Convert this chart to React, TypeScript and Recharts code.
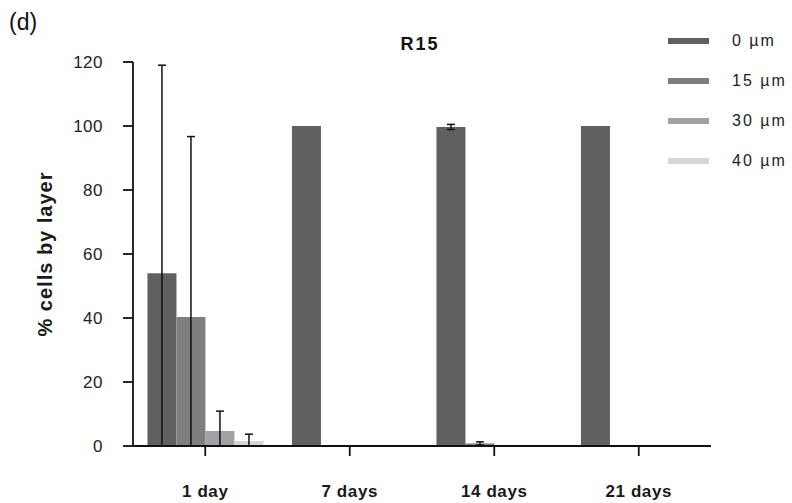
import { BarChart, Bar, XAxis, YAxis, ErrorBar, Legend } from 'recharts';

const categories = ['1 day', '7 days', '14 days', '21 days'];
const seriesNames = ['0 µm', '15 µm', '30 µm', '40 µm'];
const seriesColors = ['#606060', '#7e7e7e', '#a2a2a6', '#d6d6d6'];

const um0 = [54, 100, 99.7, 100];
const um15 = [40.3, 0, 0.8, 0];
const um30 = [4.7, 0, 0, 0];
const um40 = [1.6, 0, 0, 0];

// error (± sd), null = not drawn
const err0 = [65, null, 0.8, null];
const err15 = [56.4, null, 0.5, null];
const err30 = [6.2, null, null, null];
const err40 = [2.1, null, null, null];

const yTicks = [0, 20, 40, 60, 80, 100, 120];

const values = [um0, um15, um30, um40];
const errors = [err0, err15, err30, err40];

// lower whisker stops at the axis
const data = categories.map((cat, i) => {
  const row: Record<string, any> = { cat };
  values.forEach((vals, s) => {
    row[`s${s}`] = vals[i];
    const e = errors[s][i];
    row[`e${s}`] = e == null ? null : [Math.min(vals[i], e), e];
  });
  return row;
});

const font = '"Liberation Sans", Arial, sans-serif';

function LegendBox({ payload }: any) {
  return (
    <div style={{ fontFamily: font }}>
      {(payload || []).map((p: any) => (
        <div key={p.value} style={{ display: 'flex', alignItems: 'center', height: 40 }}>
          <div style={{ width: 41, height: 6, background: p.color, marginRight: 23 }} />
          <span style={{ fontSize: 16, color: '#222', letterSpacing: 2 }}>{p.value}</span>
        </div>
      ))}
    </div>
  );
}

function YLabel({ viewBox }: any) {
  const x = viewBox.x + 45;
  const y = viewBox.y + viewBox.height / 2;
  return (
    <text
      x={x}
      y={y}
      transform={`rotate(-90, ${x}, ${y})`}
      textAnchor="middle"
      dominantBaseline="central"
      fontFamily={font}
      fontWeight="bold"
      fontSize={20}
      letterSpacing={1}
      fill="#1a1a1a"
    >
      % cells by layer
    </text>
  );
}

export default function App() {
  return (
    <div style={{ position: 'absolute', left: 0, top: 0, width: 792, height: 503, background: '#fff' }}>
      <div style={{ position: 'absolute', left: 9, top: 9, fontFamily: font, fontSize: 23, color: '#111' }}>(d)</div>
      <div
        style={{
          position: 'absolute',
          left: 0,
          width: 840,
          top: 34,
          textAlign: 'center',
          fontFamily: font,
          fontSize: 18,
          fontWeight: 'bold',
          letterSpacing: 2,
          color: '#111',
        }}
      >
        R15
      </div>
      <BarChart
        width={792}
        height={503}
        data={data}
        margin={{ top: 62, right: 81, bottom: 7, left: 0 }}
        barCategoryGap="10%"
        barGap={0}
      >
        <XAxis
          dataKey="cat"
          height={50}
          tickSize={10}
          tickMargin={29}
          axisLine={{ stroke: '#111', strokeWidth: 1.8 }}
          tickLine={{ stroke: '#111', strokeWidth: 1.8 }}
          tick={{ fontFamily: font, fontSize: 17, fontWeight: 'bold', fill: '#1a1a1a', letterSpacing: 0.6 }}
        />
        <YAxis
          width={133}
          domain={[0, 120]}
          ticks={yTicks}
          tickSize={10}
          tickMargin={20}
          axisLine={{ stroke: '#111', strokeWidth: 1.8 }}
          tickLine={{ stroke: '#111', strokeWidth: 1.8 }}
          tick={{ fontFamily: font, fontSize: 17, fill: '#222', letterSpacing: 0.5 }}
          label={<YLabel />}
        />
        <Legend
          layout="horizontal"
          align="center"
          verticalAlign="middle"
          wrapperStyle={{ position: 'absolute', left: 668, top: 21, width: 124 }}
          content={<LegendBox />}
        />
        {seriesNames.map((name, s) => (
          <Bar key={name} dataKey={`s${s}`} name={name} fill={seriesColors[s]} isAnimationActive={false}>
            <ErrorBar dataKey={`e${s}`} width={4} stroke="#111" strokeWidth={1.5} direction="y" />
          </Bar>
        ))}
      </BarChart>
    </div>
  );
}
